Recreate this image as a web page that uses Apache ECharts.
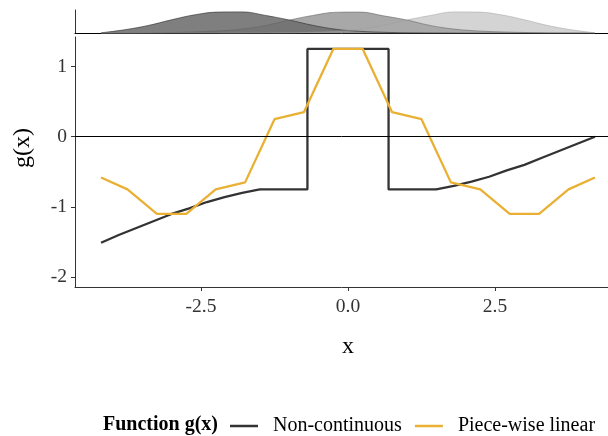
<!DOCTYPE html>
<html>
<head>
<meta charset="utf-8">
<script src="https://cdn.jsdelivr.net/npm/echarts@6/dist/echarts.min.js"></script>
<style>
html,body{margin:0;padding:0;background:#fff;}
#chart{width:608px;height:436px;}
</style>
</head>
<body>
<div id="chart"></div>
<script>
// ---- data ----
// Non-continuous g(x)
var ncX = [-4.2,-3.9,-3.6,-3.3,-3.0,-2.7,-2.4,-2.1,-1.8,-1.5,-0.69,-0.69,0.69,0.69,1.5,1.8,2.1,2.4,2.7,3.0,3.3,3.6,3.9,4.2];
var ncY = [-1.51,-1.40,-1.30,-1.20,-1.10,-1.02,-0.93,-0.86,-0.80,-0.75,-0.75,1.25,1.25,-0.75,-0.75,-0.70,-0.64,-0.57,-0.48,-0.40,-0.30,-0.20,-0.10,0.0];
// Piece-wise linear g(x)
var plX = [-4.2,-3.75,-3.25,-2.75,-2.25,-1.75,-1.25,-0.75,-0.25,0.25,0.75,1.25,1.75,2.25,2.75,3.25,3.75,4.2];
var plY = [-0.58,-0.75,-1.1,-1.1,-0.75,-0.65,0.25,0.35,1.25,1.25,0.35,0.25,-0.65,-0.75,-1.1,-1.1,-0.75,-0.58];
// marginal densities of x (three groups)
var densX = [-4.2,-3.8,-3.4,-3.0,-2.6,-2.2,-1.8,-1.4,-1.0,-0.6,-0.2,0.2,0.6,1.0,1.4,1.8,2.2,2.6,3.0,3.4,3.8,4.2];
var densDark = [0.009,0.065,0.144,0.250,0.343,0.393,0.396,0.330,0.246,0.148,0.074,0.037,0.019,0.009,0.006,0.004,0.002,0.002,0.002,0.002,0.002,0.002];
var densMid = [0.002,0.004,0.007,0.015,0.026,0.044,0.078,0.144,0.244,0.330,0.389,0.393,0.324,0.246,0.144,0.078,0.044,0.026,0.015,0.007,0.004,0.002];
var densLight = [0.002,0.002,0.002,0.002,0.002,0.002,0.004,0.006,0.009,0.019,0.037,0.074,0.148,0.246,0.330,0.396,0.393,0.343,0.250,0.144,0.065,0.009];
// ticks
var xTicks = [-2.5, 0, 2.5];
var yTicks = [-2, -1, 0, 1];
var seriesNames = ['Non-continuous', 'Piece-wise linear'];

function zip(a, b) { return a.map(function (v, i) { return [v, b[i]]; }); }

var FONT = 'Liberation Serif';
var XMIN = -4.643, XMAX = 4.422;
var chart = echarts.init(document.getElementById('chart'), null, {renderer: 'canvas'});

function dens(data, fill, line) {
  return {
    type: 'line', xAxisIndex: 0, yAxisIndex: 0, data: data,
    smooth: 0.4, showSymbol: false, silent: true,
    lineStyle: {color: line, width: 0.8},
    itemStyle: {color: line},
    areaStyle: {color: fill, opacity: 1}
  };
}

var option = {
  animation: false,
  backgroundColor: '#fff',
  grid: [
    {left: 75, top: 10, right: 0, height: 23.3, outerBoundsMode: 'none'},
    {left: 75, top: 37, right: 0, height: 250, outerBoundsMode: 'none'}
  ],
  xAxis: [
    {gridIndex: 0, type: 'value', min: XMIN, max: XMAX,
     axisLine: {show: true, onZero: false, lineStyle: {color: '#000', width: 1}},
     axisTick: {show: false}, axisLabel: {show: false}, splitLine: {show: false}},
    {gridIndex: 1, type: 'value', min: XMIN, max: XMAX,
     axisLine: {show: true, onZero: false, lineStyle: {color: '#333', width: 1}},
     axisTick: {show: true, length: 4, customValues: xTicks, lineStyle: {color: '#333'}},
     axisLabel: {show: true, customValues: xTicks, margin: 10, color: '#333', fontFamily: FONT, fontSize: 19.5,
                 formatter: function (v) { return Number(v).toFixed(1); }},
     splitLine: {show: false}}
  ],
  yAxis: [
    {gridIndex: 0, type: 'value', min: 0, max: 0.431,
     axisLine: {show: true, onZero: false, lineStyle: {color: '#333', width: 1}},
     axisTick: {show: false}, axisLabel: {show: false}, splitLine: {show: false}},
    {gridIndex: 1, type: 'value', min: -2.14, max: 1.42,
     axisLine: {show: true, onZero: false, lineStyle: {color: '#333', width: 1}},
     axisTick: {show: true, length: 4, customValues: yTicks, lineStyle: {color: '#333'}},
     axisLabel: {show: true, customValues: yTicks, margin: 8, color: '#333', fontFamily: FONT, fontSize: 19.5,
                 formatter: function (v) { return String(v); }},
     splitLine: {show: false}}
  ],
  legend: {
    data: seriesNames, left: 225, top: 411, orient: 'horizontal',
    icon: 'rect', itemWidth: 28, itemHeight: 2.5, itemGap: 13,
    textStyle: {fontFamily: FONT, fontSize: 20, color: '#000', padding: [0, 0, 0, 10]}
  },
  graphic: [
    {type: 'text', left: 103, top: 415,
     style: {text: 'Function g(x)', fontFamily: FONT, fontSize: 20, fontWeight: 'bold', fill: '#000'}},
    {type: 'text', x: 23, y: 148, rotation: Math.PI / 2,
     style: {text: 'g(x)', fontFamily: FONT, fontSize: 24, fill: '#000', align: 'center', verticalAlign: 'middle'}},
    {type: 'text', x: 348, y: 347,
     style: {text: 'x', fontFamily: FONT, fontSize: 24, fill: '#000', align: 'center', verticalAlign: 'middle'}}
  ],
  series: [
    dens(zip(densX, densDark), 'rgba(60,60,60,0.66)', 'rgba(50,50,50,0.8)'),
    dens(zip(densX, densMid), 'rgba(110,110,110,0.6)', 'rgba(100,100,100,0.7)'),
    dens(zip(densX, densLight), 'rgba(170,170,170,0.5)', 'rgba(160,160,160,0.6)'),
    {name: seriesNames[0], type: 'line', xAxisIndex: 1, yAxisIndex: 1,
     data: zip(ncX, ncY), showSymbol: false, smooth: false,
     lineStyle: {color: '#333333', width: 2.3}, itemStyle: {color: '#333333'},
     markLine: {silent: true, symbol: ['none', 'none'], label: {show: false},
                lineStyle: {color: '#000', width: 1, type: 'solid'},
                data: [{yAxis: 0}]}},
    {name: seriesNames[1], type: 'line', xAxisIndex: 1, yAxisIndex: 1,
     data: zip(plX, plY), showSymbol: false, smooth: false,
     lineStyle: {color: '#E9B033', width: 2.3}, itemStyle: {color: '#E9B033'}}
  ]
};
chart.setOption(option);
</script>
</body>
</html>
